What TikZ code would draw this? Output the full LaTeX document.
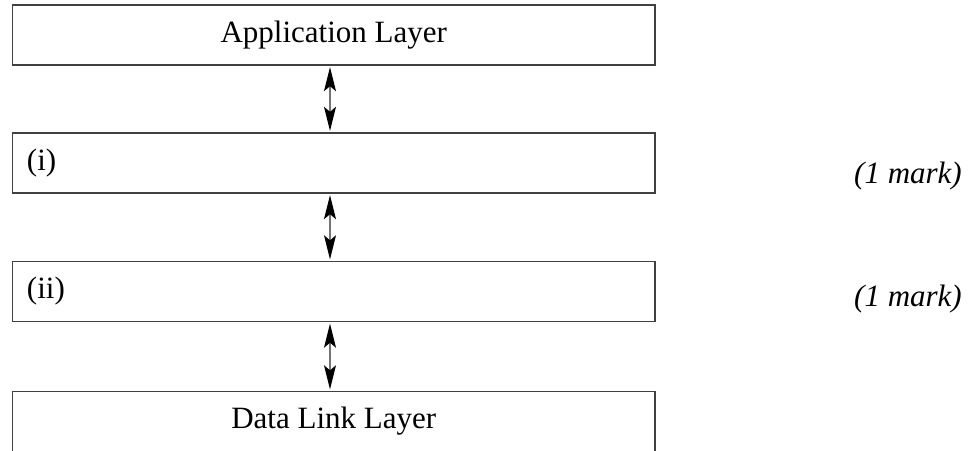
\documentclass[tikz,border=0pt]{standalone}
\usepackage{fontspec}
\setmainfont{Liberation Serif}
\usetikzlibrary{arrows.meta}

\tikzset{
  layerbox/.style={draw=black!75, line width=1.4pt, fill=white, inner sep=0pt,
    minimum width=642.5pt, minimum height=60pt,
    font=\fontsize{31}{36}\selectfont},
  boxlabel/.style={anchor=west, inner sep=0pt, font=\fontsize{31}{36}\selectfont},
  marklabel/.style={anchor=base east, inner sep=0pt, font=\fontsize{31}{36}\selectfont\itshape},
  headtip/.tip={Stealth[length=24pt,width=12pt,inset=5pt,color=black,fill=black]},
  flow/.style={draw=black!55, line width=1.3pt, headtip-headtip,
    shorten <=1.5pt, shorten >=1.5pt}
}

\begin{document}
\begin{tikzpicture}[x=1pt,y=-1pt]
  \useasboundingbox (0,0) rectangle (969,450);
  \clip (0,0) rectangle (969,450);

  % protocol stack
  \node[layerbox] (app)  at (333.75,35)  {Application Layer};
  \node[layerbox] (lay1) at (333.75,163) {};
  \node[layerbox] (lay2) at (333.75,291.5) {};
  \node[layerbox] (dll)  at (333.75,421.5) {Data Link Layer};

  % blanks to be filled in
  \node[boxlabel] (lbl1) at ([xshift=15pt]lay1.west) {(i)};
  \node[boxlabel] (lbl2) at ([xshift=15pt]lay2.west) {(ii)};

  % marks
  \node[marklabel] (mark1) at (962,183) {(1 mark)};
  \node[marklabel] (mark2) at (962,306) {(1 mark)};

  % links between layers
  \draw[flow] (app.south -| 330,0) -- (lay1.north -| 330,0);
  \draw[flow] (lay1.south -| 330,0) -- (lay2.north -| 330,0);
  \draw[flow] (lay2.south -| 330,0) -- (dll.north -| 330,0);
\end{tikzpicture}
\end{document}
